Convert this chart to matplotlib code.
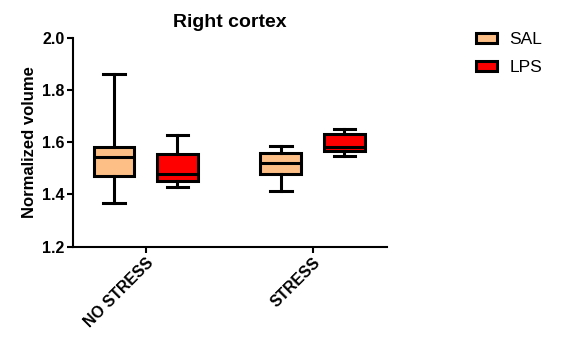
import matplotlib.pyplot as plt
from matplotlib.patches import Patch

plt.rcParams['font.family'] = ['Liberation Sans', 'DejaVu Sans']

groups = ["NO STRESS", "STRESS"]
series = ["SAL", "LPS"]
colors = ["#FDBF85", "#FF0000"]

# whisker low, q1, median, q3, whisker high
sal_stats = [[1.369, 1.471, 1.543, 1.582, 1.861],
             [1.414, 1.478, 1.519, 1.557, 1.586]]
lps_stats = [[1.428, 1.452, 1.478, 1.553, 1.628],
             [1.547, 1.567, 1.582, 1.631, 1.649]]

fig = plt.figure(figsize=(5.62, 3.37), dpi=100)
ax = fig.add_axes([0.130, 0.268, 0.558, 0.620])

offsets = [-0.19, 0.19]
for k, (stats, col) in enumerate(zip([sal_stats, lps_stats], colors)):
    bstats = []
    for s in stats:
        bstats.append(dict(whislo=s[0], q1=s[1], med=s[2], q3=s[3], whishi=s[4], fliers=[]))
    pos = [i + offsets[k] for i in range(len(groups))]
    ax.bxp(bstats, positions=pos, widths=0.245, patch_artist=True, showfliers=False,
           boxprops=dict(facecolor=col, edgecolor='black', linewidth=2.2),
           medianprops=dict(color='black', linewidth=2.2),
           whiskerprops=dict(color='black', linewidth=2.2),
           capprops=dict(color='black', linewidth=2.2), capwidths=0.13)

ax.set_xlim(-0.435, 1.443)
ax.set_ylim(1.2, 2.0)
ax.set_yticks([1.2, 1.4, 1.6, 1.8, 2.0])
ax.set_yticklabels(["1.2", "1.4", "1.6", "1.8", "2.0"], fontweight='bold', fontsize=11.5)
ax.set_xticks(range(len(groups)))
ax.set_xticklabels(groups, rotation=45, ha='right', rotation_mode='anchor',
                   fontweight='bold', fontsize=11.3)
ax.spines['top'].set_visible(False)
ax.spines['right'].set_visible(False)
for sp in ['left', 'bottom']:
    ax.spines[sp].set_linewidth(1.5)
ax.tick_params(axis='both', width=1.5, length=4, direction='out', pad=2)
ax.set_ylabel("Normalized volume", fontweight='bold', fontsize=12, labelpad=4)
ax.set_title("Right cortex", fontweight='bold', fontsize=14, pad=8)

handles = [Patch(facecolor=c, edgecolor='black', linewidth=2.2, label=s) for s, c in zip(series, colors)]
fig.legend(handles=handles, loc='upper left', bbox_to_anchor=(0.82, 0.95), frameon=False,
           fontsize=12.5, handlelength=1.2, handleheight=0.5, handletextpad=0.7, labelspacing=0.75)

fig.savefig("out.png", dpi=100)
